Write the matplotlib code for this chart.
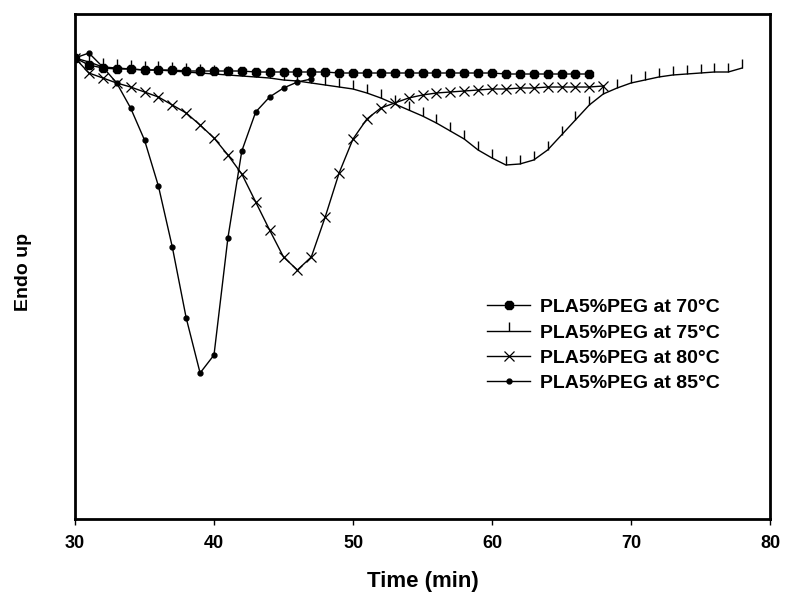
import matplotlib
matplotlib.use("Agg")
import matplotlib.pyplot as plt

# Data (time in min, heat-flow signal in arbitrary units; larger = higher on chart)
t70 = list(range(30, 68))
y70 = [461, 454, 451, 450, 450, 449, 449, 449, 448, 448, 448, 448, 448, 447, 447,
       447, 447, 447, 447, 446, 446, 446, 446, 446, 446, 446, 446, 446, 446, 446,
       446, 445, 445, 445, 445, 445, 445, 445]

t75 = list(range(30, 79))
y75 = [461, 457, 452, 451, 450, 449, 449, 448, 447, 446, 445, 444, 443, 442, 441,
       439, 438, 436, 434, 432, 430, 426, 421, 415, 409, 403, 396, 388, 380, 369,
       361, 354, 355, 359, 369, 384, 399, 414, 425, 431, 436, 439, 442, 444, 445,
       446, 447, 447, 451]

t80 = list(range(30, 69))
y80 = [461, 446, 441, 436, 432, 427, 422, 414, 406, 394, 381, 364, 345, 317, 289,
       262, 249, 262, 302, 346, 380, 400, 411, 416, 421, 424, 426, 427, 428, 429,
       430, 430, 431, 431, 432, 432, 432, 432, 433]

t85 = list(range(30, 48))
y85 = [461, 466, 452, 436, 411, 379, 333, 272, 201, 146, 164, 281, 368, 407, 422,
       431, 437, 440]

labels = ["PLA5%PEG at 70°C", "PLA5%PEG at 75°C", "PLA5%PEG at 80°C", "PLA5%PEG at 85°C"]
xticks = [30, 40, 50, 60, 70, 80]

FONT = ["Liberation Sans", "DejaVu Sans"]

fig = plt.figure(figsize=(7.86, 5.98), dpi=100)
ax = fig.add_axes([75/786, 1 - 519/598, (770 - 75)/786, (519 - 14)/598])

lw = 1.0
ax.plot(t70, y70, color="black", lw=lw, marker="8", ms=7, mfc="black", mec="black",
        label=labels[0], zorder=5)
ax.plot(t75, y75, color="black", lw=lw, marker=2, ms=6.5, mew=1.0, label=labels[1], zorder=3)
ax.plot(t80, y80, color="black", lw=lw, marker="x", ms=7, mew=0.9, label=labels[2], zorder=4)
ax.plot(t85, y85, color="black", lw=lw, marker="o", ms=3.5, mfc="black", mec="black",
        label=labels[3], zorder=4)

ax.set_xlim(30, 80)
ax.set_ylim(0, 505)
ax.set_xticks(xticks)
ax.set_xticklabels([str(v) for v in xticks], fontfamily=FONT, fontweight="bold", fontsize=13)
ax.set_yticks([])
for s in ax.spines.values():
    s.set_linewidth(2)
ax.tick_params(axis="x", direction="out", length=4.5, width=1, pad=7)

ax.set_xlabel("Time (min)", fontfamily=FONT, fontweight="bold", fontsize=16, labelpad=14)
ax.set_ylabel("Endo up", fontfamily=FONT, fontweight="bold", fontsize=14)
ax.yaxis.set_label_coords(-0.062, 0.489)

leg = ax.legend(loc="upper left", bbox_to_anchor=(0.582, 0.452), frameon=False,
                prop={"family": FONT, "weight": "bold", "size": 14},
                handlelength=2.2, labelspacing=0.4, handletextpad=0.5,
                borderaxespad=0)

fig.savefig("out.png", dpi=100)
